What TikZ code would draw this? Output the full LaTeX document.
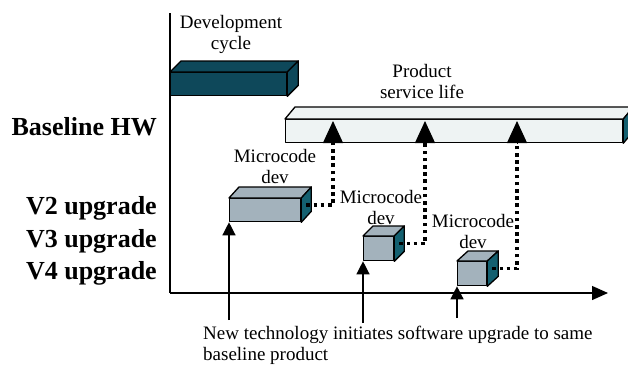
\documentclass[tikz,border=0pt]{standalone}
\usepackage{fontspec}
\setmainfont{Liberation Serif}
\usetikzlibrary{arrows.meta,calc}

\definecolor{devteal}{RGB}{14,72,90}
\definecolor{sideteal}{RGB}{20,96,112}
\definecolor{boxgray}{RGB}{163,178,188}
\definecolor{barlight}{RGB}{238,243,243}

\tikzset{
  face/.style={draw=black, line width=1.3pt, line join=round},
  front/.style={face, rectangle, inner sep=0pt, anchor=north west},
  lbl/.style={font=\fontsize{19}{21}\selectfont, align=center, inner sep=0pt},
  rowlbl/.style={font=\fontsize{26}{28}\selectfont\bfseries, anchor=east, inner sep=0pt},
  dotline/.style={line width=3.6pt, dash pattern=on 3.6pt off 3.6pt},
  bighead/.style={line width=1pt, -{Triangle[width=20pt,length=22pt]}},
  smallhead/.style={line width=1.3pt, -{Triangle[width=13pt,length=13pt]}},
}

% top and right faces of an extruded box: node, dx, dy, top colour, side colour
\newcommand\boxfaces[5]{%
  \draw[face, fill=#4] (#1.north west) -- ([shift={(#2,#3)}]#1.north west)
     -- ([shift={(#2,#3)}]#1.north east) -- (#1.north east) -- cycle;
  \draw[face, fill=#5] (#1.north east) -- ([shift={(#2,#3)}]#1.north east)
     -- ([shift={(#2,#3)}]#1.south east) -- (#1.south east) -- cycle;
}

\begin{document}
\begin{tikzpicture}[x=1pt,y=-1pt]
\useasboundingbox (0,0) rectangle (628,367);

% axes
\coordinate (origin) at (170,293);
\coordinate (ytop) at (170,13);
\coordinate (xend) at (608,293);
\draw[line width=1.3pt] (ytop) -- (origin);
\draw[line width=1.3pt, -{Triangle[width=14pt,length=16pt]}] (origin) -- (xend);

% development cycle bar
\node[front, fill=devteal, minimum width=116pt, minimum height=23pt] (dev) at (170,72) {};
\boxfaces{dev}{11}{-11}{devteal}{devteal}

% product service life bar
\node[front, fill=barlight, minimum width=337pt, minimum height=23pt] (base) at (285,119) {};
\boxfaces{base}{10}{-12}{barlight}{sideteal}

% upgrade boxes
\node[front, fill=boxgray, minimum width=71pt, minimum height=23pt] (v2) at (229,198) {};
\boxfaces{v2}{10}{-11}{boxgray}{sideteal}
\node[front, fill=boxgray, minimum width=30pt, minimum height=24pt] (v3) at (363,236) {};
\boxfaces{v3}{10}{-10}{boxgray}{sideteal}
\node[front, fill=boxgray, minimum width=29pt, minimum height=24pt] (v4) at (457,261) {};
\boxfaces{v4}{11}{-10}{boxgray}{sideteal}

% text labels
\node[lbl] (devtxt) at (231,34) {Development\\cycle};
\node[lbl] (prodtxt) at (422,81) {Product\\service life};
\node[lbl] (mc2) at (275,166) {Microcode\\dev};
\node[lbl] (mc3) at (381,207) {Microcode\\dev};
\node[lbl] (mc4) at (473,231) {Microcode\\dev};

\node[rowlbl] (lbase) at (157,127) {Baseline HW};
\node[rowlbl] (lv2) at (157,208) {V2 upgrade};
\node[rowlbl] (lv3) at (157,241) {V3 upgrade};
\node[rowlbl] (lv4) at (157,273) {V4 upgrade};

\node[font=\fontsize{19}{21}\selectfont, align=left, anchor=north west, inner sep=0pt]
  (note) at (203,326) {New technology initiates software upgrade to same\\baseline product};

% dotted links from each microcode box to the baseline bar
\coordinate (a2) at (333,143);
\coordinate (a3) at (425,143);
\coordinate (a4) at (517,143);
\draw[dotline] ([shift={(5,-5)}]v2.east) -| (a2);
\draw[dotline] ([shift={(5,-5)}]v3.east) -| (a3);
\draw[dotline] ([shift={(5,-5)}]v4.east) -| (a4);
\draw[bighead] (a2) -- ++(0,-22);
\draw[bighead] (a3) -- ++(0,-22);
\draw[bighead] (a4) -- ++(0,-22);

% technology triggers below the time axis
\coordinate (t2) at (229,320);
\coordinate (t3) at (363,323);
\coordinate (t4) at (457,318);
\draw[smallhead] (t2) -- (v2.south west);
\draw[smallhead] (t3) -- (v3.south west);
\draw[smallhead] (t4) -- (v4.south west);
\end{tikzpicture}
\end{document}
